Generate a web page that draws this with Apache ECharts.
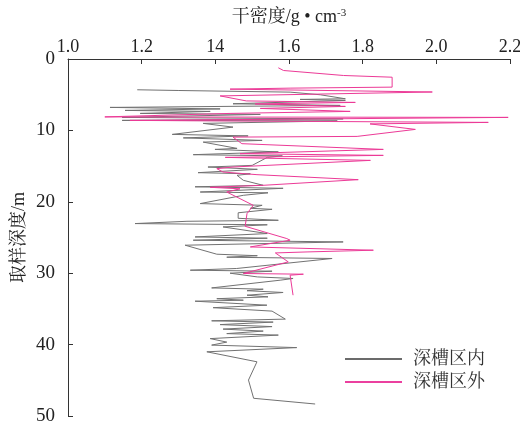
<!DOCTYPE html>
<html>
<head>
<meta charset="utf-8">
<script src="https://cdn.jsdelivr.net/npm/echarts@6/dist/echarts.min.js"></script>
<style>html,body{margin:0;padding:0;background:#fff;}#c{width:520px;height:425px;}</style>
</head>
<body>
<div id="c"></div>
<script>
const xTickLabels = ['1.0','1.2','14','1.6','1.8','2.0','2.2'];
const yTickLabels = ['0','10','20','30','40','50'];
const seriesNames = ['深槽区内','深槽区外'];

const insideDensity = [
1.188,1.299,1.603,1.685,1.753,1.630,1.753,1.448,1.739,1.114,
1.413,1.155,1.386,1.196,1.522,1.147,1.747,1.147,1.731,1.367,
1.448,1.283,1.489,1.313,1.527,1.367,1.459,1.399,1.571,1.340,
1.582,1.541,1.500,1.380,1.514,1.353,1.495,1.459,1.476,1.530,
1.345,1.584,1.359,1.543,1.476,1.359,1.527,1.495,1.554,1.462,
1.462,1.571,1.323,1.182,1.541,1.421,1.541,1.345,1.541,1.340,
1.747,1.318,1.404,1.514,1.431,1.717,1.458,1.332,1.554,1.440,
1.514,1.611,1.576,1.390,1.530,1.486,1.584,1.486,1.543,1.404,
1.476,1.345,1.540,1.394,1.554,1.590,1.390,1.557,1.413,1.554,
1.421,1.530,1.431,1.571,1.386,1.431,1.390,1.621,1.377,1.513,
1.490,1.504,1.671];
const insideDepth = [
4.31,4.41,4.64,5.01,5.57,5.66,5.80,6.27,6.50,6.78,
6.99,7.20,7.34,7.62,7.76,8.18,8.39,8.60,8.67,9.02,
9.54,10.56,10.77,11.05,11.40,11.64,12.52,12.66,13.01,13.40,
13.57,13.78,14.90,15.13,15.45,15.92,16.08,16.29,16.99,17.69,
17.90,18.11,18.63,18.74,19.09,20.25,20.49,20.91,21.05,21.54,
22.31,22.59,22.73,23.05,23.22,23.52,24.45,24.92,25.10,25.38,
25.62,26.08,27.34,27.55,27.76,27.94,29.34,29.58,29.72,30.00,
30.52,30.74,30.98,32.06,32.24,32.45,32.70,33.08,33.31,33.57,
33.78,33.92,34.48,34.83,35.31,36.43,36.67,36.85,37.20,37.48,
37.83,38.11,38.46,38.67,39.16,39.65,40.07,40.42,41.01,42.41,
44.97,47.52,48.32];

const outsideDensity = [
1.571,1.585,1.748,1.880,1.880,1.603,1.440,1.989,1.413,1.484,
1.780,1.508,1.753,1.522,1.766,1.440,1.100,2.195,1.168,2.141,
1.820,1.943,1.785,1.448,1.472,1.856,1.467,1.856,1.427,1.821,
1.448,1.404,1.421,1.513,1.788,1.530,1.386,1.467,1.431,1.503,
1.486,1.481,1.594,1.603,1.495,1.829,1.649,1.563,1.598,1.476,
1.639,1.603,1.611];
const outsideDepth = [
1.23,1.61,2.31,2.55,3.94,4.08,4.22,4.62,5.17,5.87,
6.08,6.29,6.64,6.92,7.34,7.62,8.11,8.18,8.60,8.88,
9.09,9.86,10.84,10.94,11.86,12.66,13.26,13.50,13.78,14.20,
15.13,15.36,15.83,16.20,16.90,17.69,17.97,18.18,18.63,20.49,
21.65,23.43,25.15,25.38,26.32,26.78,27.02,27.16,28.42,30.04,
30.14,30.28,33.08];

const pairs = (xs, ys) => xs.map((v, i) => [v, ys[i]]);
const serif = "'Liberation Serif','Times New Roman','Noto Serif CJK SC','Noto Sans CJK SC',serif";
const chart = echarts.init(document.getElementById('c'), null, {renderer: 'canvas'});
chart.setOption({
  animation: false,
  backgroundColor: '#fff',
  grid: {left: 68, right: 10, top: 59, bottom: 9, containLabel: false, outerBoundsMode: 'none'},
  xAxis: {
    type: 'value', position: 'top', min: 1.0, max: 2.2, interval: 0.2,
    name: '{a|干密度/g • cm}{b|-3}', nameLocation: 'middle', nameGap: 32, nameMoveOverlap: false,
    nameTextStyle: {
      rich: {
        a: {fontSize: 18, fontFamily: serif, color: '#222'},
        b: {fontSize: 11, fontFamily: serif, color: '#222', verticalAlign: 'top', padding: [0,0,8,0]}
      }
    },
    axisLine: {show: true, lineStyle: {color: '#333', width: 1}},
    axisTick: {show: true, inside: true, length: 5, lineStyle: {color: '#333'}},
    axisLabel: {
      fontSize: 18, fontFamily: serif, color: '#222', margin: 3,
      formatter: (v) => { const i = Math.round((v - 1.0) / 0.2); return xTickLabels[i] !== undefined ? xTickLabels[i] : ''; }
    },
    splitLine: {show: false}
  },
  yAxis: {
    type: 'value', inverse: true, min: 0, max: 50, interval: 10,
    name: '取样深度/m', nameLocation: 'middle', nameGap: 40, nameRotate: 90, nameMoveOverlap: false,
    nameTextStyle: {fontSize: 18, fontFamily: serif, color: '#222'},
    axisLine: {show: true, lineStyle: {color: '#333', width: 1}},
    axisTick: {show: true, inside: true, length: 5, lineStyle: {color: '#333'}},
    axisLabel: {
      fontSize: 19, fontFamily: serif, color: '#222', margin: 13,
      formatter: (v) => { const i = Math.round(v / 10); return yTickLabels[i] !== undefined ? yTickLabels[i] : ''; }
    },
    splitLine: {show: false}
  },
  legend: {
    orient: 'vertical', left: 340, top: 345, itemWidth: 57, itemHeight: 1.5, itemGap: 5,
    icon: 'rect',
    textStyle: {fontSize: 18, fontFamily: serif, color: '#333', padding: [0,0,0,6]},
    data: [
      {name: seriesNames[0], itemStyle: {color: '#3a3a3a'}},
      {name: seriesNames[1], itemStyle: {color: '#e4007f'}}
    ]
  },
  series: [
    {
      name: seriesNames[0], type: 'line', symbol: 'none', showSymbol: false,
      data: pairs(insideDensity, insideDepth),
      lineStyle: {color: '#727272', width: 1},
      itemStyle: {color: '#727272'}
    },
    {
      name: seriesNames[1], type: 'line', symbol: 'none', showSymbol: false,
      data: pairs(outsideDensity, outsideDepth),
      lineStyle: {color: '#ec3a97', width: 1},
      itemStyle: {color: '#ec3a97'}
    }
  ]
});
</script>
</body>
</html>
